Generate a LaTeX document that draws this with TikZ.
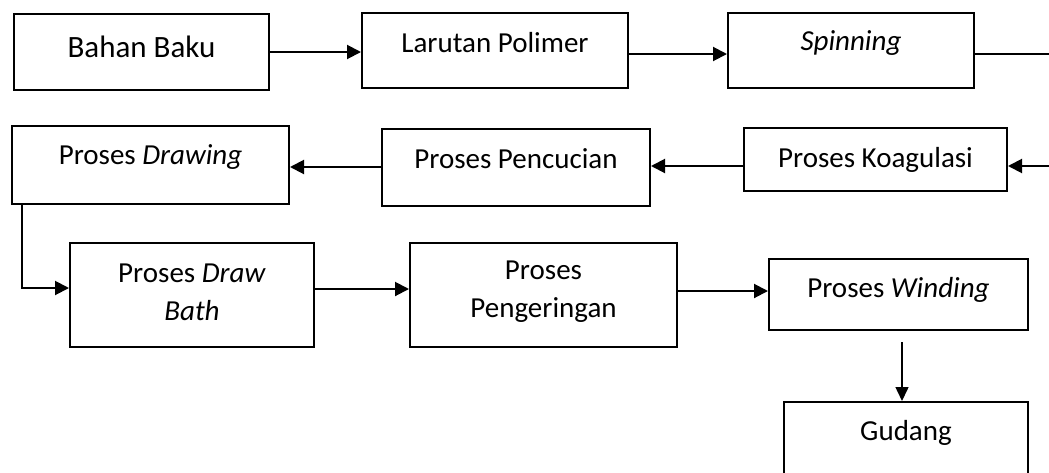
\documentclass[tikz,border=0pt]{standalone}
\usepackage{fontspec}
\setmainfont{Carlito}
\usetikzlibrary{arrows.meta}
\begin{document}
\begin{tikzpicture}[x=1pt,y=-1pt,
  box/.style={draw=black,line width=2pt,rectangle,inner sep=0pt},
  txt/.style={inner sep=0pt,align=center,font=\fontsize{29pt}{38pt}\selectfont},
  flow/.style={line width=2pt,-{Triangle[length=14pt,width=14pt]}},
  thinflow/.style={line width=1.5pt,-{Triangle[length=14pt,width=13pt]}}]
\useasboundingbox (0,0) rectangle (1049,472);
\clip (0,0) rectangle (1049,472);
\fill[white] (0,0) rectangle (1049,472);

% first row
\node[box,minimum width=255pt,minimum height=76pt] (bb) at (141.5,52) {};
\node[txt,font=\fontsize{31pt}{38pt}\selectfont] (bbt) at (141.5,47) {Bahan Baku};
\node[box,minimum width=266pt,minimum height=75pt] (lp) at (495,50.5) {};
\node[txt] (lpt) at (495,43) {Larutan Polimer};
\node[box,minimum width=246pt,minimum height=75pt] (sp) at (851,50.5) {};
\node[txt] (spt) at (851,43) {\itshape Spinning};

% second row
\node[box,minimum width=263pt,minimum height=63pt] (ko) at (875.5,159.5) {};
\node[txt] (kot) at (875.5,160) {Proses Koagulasi};
\node[box,minimum width=268pt,minimum height=77pt] (pc) at (516,167.5) {};
\node[txt] (pct) at (516,159) {Proses Pencucian};
\node[box,minimum width=277pt,minimum height=78pt] (dr) at (150.5,165) {};
\node[txt] (drt) at (150.5,157) {Proses \textit{Drawing}};

% third row
\node[box,minimum width=244pt,minimum height=104pt] (db) at (192,295) {};
\node[txt] (dbt) at (192,292) {Proses \textit{Draw}\\\textit{Bath}};
\node[box,minimum width=267pt,minimum height=104pt] (pg) at (543.5,295) {};
\node[txt] (pgt) at (543.5,292) {Proses\\Pengeringan};
\node[box,minimum width=259pt,minimum height=71pt] (wd) at (898.5,294.5) {};
\node[txt] (wdt) at (898.5,290) {Proses \textit{Winding}};

% store, running past the lower edge
\node[box,minimum width=244pt,minimum height=84pt] (gd) at (906,444) {};
\node[txt] (gdt) at (906,433) {Gudang};

% free ends at the right margin
\coordinate (outR) at (1049,54);
\coordinate (inR) at (1049,166);

% connectors
\draw[flow] (bb.east |- 0,52) -- (lp.west |- 0,52);
\draw[flow] (lp.east |- 0,54) -- (sp.west |- 0,54);
\draw[line width=1.2pt] (sp.east |- outR) -- (outR);
\draw[flow] (inR) -- (ko.east |- inR);
\draw[flow] (ko.west |- 0,166) -- (pc.east |- 0,166);
\draw[flow] (pc.west |- 0,167) -- (dr.east |- 0,167);
\draw[flow] (dr.south -| 22,0) |- (db.west |- 0,288);
\draw[flow] (db.east |- 0,289) -- (pg.west |- 0,289);
\draw[flow] (pg.east |- 0,291) -- (wd.west |- 0,291);
\draw[thinflow] ([yshift=-11pt]wd.south -| 902,0) -- (gd.north -| 902,0);
\end{tikzpicture}
\end{document}
